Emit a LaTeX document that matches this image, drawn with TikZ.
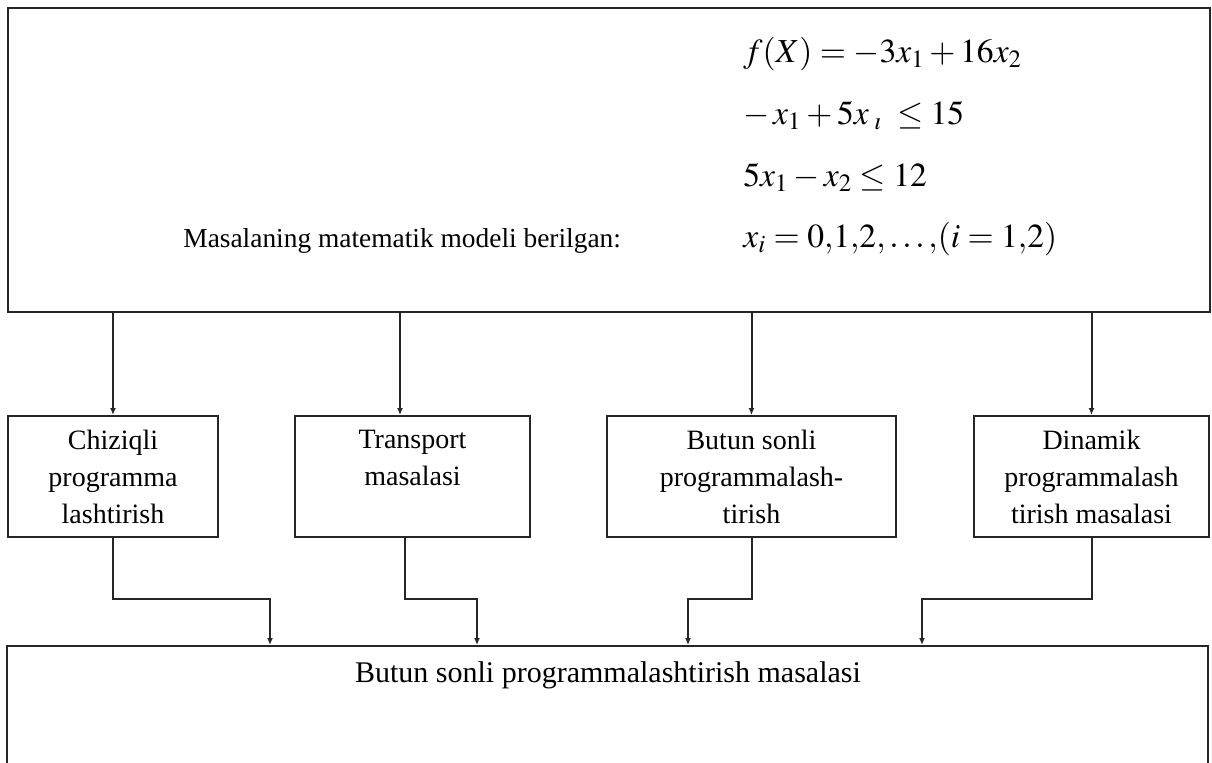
\documentclass[tikz,border=0pt]{standalone}
\usepackage{mathptmx}
\usepackage[no-math]{fontspec}
\setmainfont{Liberation Serif}
\usetikzlibrary{arrows.meta}
\begin{document}
\begin{tikzpicture}[x=0.5pt,y=-0.5pt,
  box/.style={draw=black!85,line width=1pt,rectangle,inner sep=0pt},
  smallbox/.style={box,minimum height=60.5pt,align=center,font=\fontsize{14}{18.5}\selectfont},
  arr/.style={draw=black!85,line width=1pt,-{Latex[length=3.5pt,width=3pt]}},
  fml/.style={anchor=base west,inner sep=0pt,font=\fontsize{16.8}{20}\selectfont}]
\clip (0,0) rectangle (1212,762);
\fill[white] (0,0) rectangle (1212,762);
% top box
\node[box,minimum width=601pt,minimum height=152pt] (top) at (609,160) {};
\node[anchor=base west,inner sep=0pt,font=\fontsize{13.7}{16}\selectfont] (mt) at (183,247) {Masalaning matematik modeli berilgan:};
\node[fml] (f1) at (743,62) {$f(X) = -3x_1 + 16x_2$};
\node[fml] (f2) at (743,124) {$-\,x_1 + 5x_{\;\imath}\;\le 15$};
\node[fml] (f3) at (743,186) {$5x_1 - x_2 \le 12$};
\node[fml] (f4) at (743,247) {$x_i = 0{,}1{,}2{,}\ldots{,}(i = 1{,}2)$};
% middle boxes
\node[smallbox,minimum width=105pt] (b1) at (113,476.5) {Chiziqli\\programma\\lashtirish};
\node[smallbox,minimum width=117.5pt] (b2) at (412.5,476.5) {Transport\\masalasi\\\mbox{}};
\node[smallbox,minimum width=144.5pt] (b3) at (751.5,476.5) {Butun sonli\\programmalash-\\tirish};
\node[smallbox,minimum width=117.5pt] (b4) at (1091.5,476.5) {Dinamik\\programmalash\\tirish masalasi};
% bottom box
\node[box,minimum width=600.5pt,minimum height=100pt,anchor=north] (bot) at (607.5,645) {};
\node[anchor=base,inner sep=0pt,font=\fontsize{15}{18}\selectfont] (bt) at (608,682) {Butun sonli programmalashtirish masalasi};
% connectors top -> boxes
\path ([xshift=-6.25pt]b2.north) coordinate (b2n);
\path ([xshift=-4pt]b2.south) coordinate (b2s);
\draw[arr] (top.south -| b1.north) -- (b1.north);
\draw[arr] (top.south -| b2n) -- (b2n);
\draw[arr] (top.south -| b3.north) -- (b3.north);
\draw[arr] (top.south -| b4.north) -- (b4.north);
% connectors boxes -> bottom
\coordinate (t1) at (270,645);
\coordinate (t2) at (477,645);
\coordinate (t3) at (688,645);
\coordinate (t4) at (922,645);
\draw[arr] (b1.south) -- ++(0,61) -| (t1);
\draw[arr] (b2s) -- ++(0,61) -| (t2);
\draw[arr] (b3.south) -- ++(0,61) -| (t3);
\draw[arr] (b4.south) -- ++(0,61) -| (t4);
\end{tikzpicture}
\end{document}
